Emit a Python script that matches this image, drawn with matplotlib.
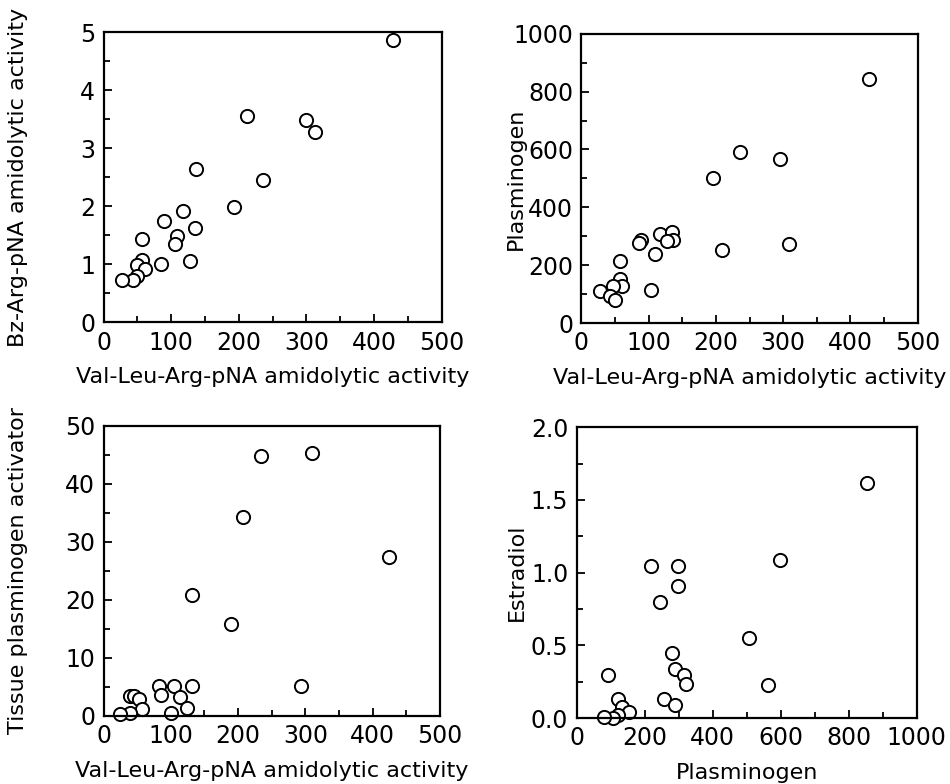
import matplotlib
matplotlib.use("Agg")
import matplotlib.pyplot as plt
from matplotlib.ticker import MultipleLocator, FormatStrFormatter

plt.rcParams['font.family'] = ['DejaVu Sans']

# Val-Leu-Arg-pNA vs Bz-Arg-pNA
vla_a = [428, 212, 299, 313, 136, 235, 193, 117, 89, 135, 109, 106, 57, 57, 49, 62, 85, 128, 49, 43, 28]
bz_a = [4.86, 3.55, 3.49, 3.28, 2.64, 2.45, 1.99, 1.91, 1.75, 1.62, 1.48, 1.34, 1.44, 1.08, 0.98, 0.92, 1.01, 1.06, 0.79, 0.73, 0.73]

# Val-Leu-Arg-pNA vs Plasminogen
vla_b = [428, 236, 296, 195, 209, 309, 117, 135, 136, 128, 89, 86, 110, 57, 57, 61, 47, 28, 42, 50, 104]
plg_b = [843, 590, 566, 500, 254, 274, 306, 315, 287, 283, 287, 275, 240, 215, 152, 127, 127, 110, 93, 78, 114]

# Val-Leu-Arg-pNA vs t-PA
vla_c = [234, 310, 208, 424, 132, 190, 294, 131, 82, 105, 85, 114, 124, 101, 40, 46, 53, 57, 40, 24]
tpa_c = [44.8, 45.3, 34.3, 27.3, 20.8, 15.8, 5.2, 5.1, 5.2, 5.1, 3.5, 3.2, 1.3, 0.5, 3.45, 3.45, 2.9, 1.15, 0.46, 0.34]

# Plasminogen vs Estradiol
plg_d = [853, 599, 220, 297, 297, 246, 508, 280, 91, 289, 315, 322, 564, 257, 289, 121, 134, 155, 121, 107, 79]
e2_d = [1.62, 1.085, 1.046, 1.046, 0.91, 0.80, 0.55, 0.45, 0.296, 0.337, 0.30, 0.238, 0.226, 0.134, 0.092, 0.129, 0.076, 0.04, 0.023, 0.0, 0.007]

vla_label = "Val-Leu-Arg-pNA amidolytic activity"

fig = plt.figure(figsize=(9.5, 7.84), dpi=100)

# rect, x, y, xlim/major/minor, ylim/major/minor, xlabel, ylabel, y format, ylabel x pos
panels = [
    ([0.109, 0.589, 0.356, 0.370], vla_a, bz_a, (0, 500, 100, 50), (0, 5, 1, 0.5),
     vla_label, "Bz-Arg-pNA amidolytic activity", None, -0.222),
    ([0.612, 0.588, 0.354, 0.369], vla_b, plg_b, (0, 500, 100, 50), (0, 1000, 200, 100),
     vla_label, "Plasminogen", None, -0.165),
    ([0.109, 0.087, 0.354, 0.370], vla_c, tpa_c, (0, 500, 100, 50), (0, 50, 10, 5),
     vla_label, "Tissue plasminogen activator", None, -0.225),
    ([0.607, 0.084, 0.358, 0.371], plg_d, e2_d, (0, 1000, 200, 100), (0, 2, 0.5, 0.25),
     "Plasminogen", "Estradiol", "%.1f", -0.145),
]

for rect, xs, ys, xl, yl, xlab, ylab, yfmt, ylx in panels:
    ax = fig.add_axes(rect)
    ax.plot(xs, ys, 'o', mfc='white', mec='black', ms=9.5, mew=1.4, clip_on=False)
    ax.set_xlim(xl[0], xl[1])
    ax.set_ylim(yl[0], yl[1])
    ax.xaxis.set_major_locator(MultipleLocator(xl[2]))
    ax.xaxis.set_minor_locator(MultipleLocator(xl[3]))
    ax.yaxis.set_major_locator(MultipleLocator(yl[2]))
    ax.yaxis.set_minor_locator(MultipleLocator(yl[3]))
    if yfmt:
        ax.yaxis.set_major_formatter(FormatStrFormatter(yfmt))
    ax.tick_params(which='both', direction='in', top=False, right=False,
                   width=1.3, labelsize=17, pad=6)
    ax.tick_params(which='major', length=6)
    ax.tick_params(which='minor', length=4)
    for s in ax.spines.values():
        s.set_linewidth(1.6)
    ax.set_xlabel(xlab, fontsize=16, labelpad=9)
    ax.set_ylabel(ylab, fontsize=16)
    ax.yaxis.set_label_coords(ylx, 0.5)

plt.savefig("out.png", dpi=100)
